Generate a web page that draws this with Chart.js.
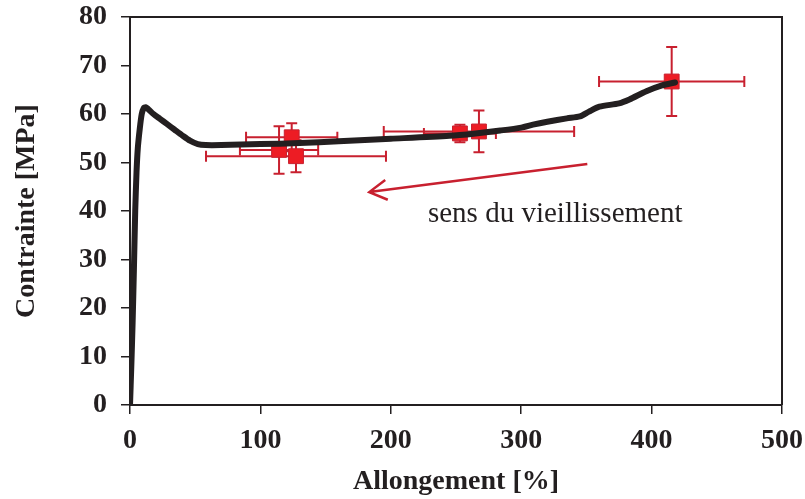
<!DOCTYPE html>
<html>
<head>
<meta charset="utf-8">
<script src="https://cdn.jsdelivr.net/npm/chart.js@4.4.1/dist/chart.umd.min.js"></script>
<style>
  body { margin: 0; background: #fff; }
</style>
</head>
<body>
<canvas id="myChart" width="805" height="499"></canvas>
<script>
// courbe de traction (allongement %, contrainte MPa)
var curveX = [0, 1, 2, 3, 4, 5, 6, 7.5, 9, 10.5, 12, 14, 18, 23, 28, 34, 40, 46, 52, 58, 70, 100, 130, 160, 200, 245, 265, 284, 300, 309, 320, 335, 345, 352, 360, 375, 383, 396, 408, 418];
var curveY = [0, 8, 17, 28, 40, 48, 53, 57, 60, 61.2, 61.4, 61, 60, 59, 58, 56.8, 55.6, 54.5, 53.8, 53.6, 53.6, 53.8, 54, 54.4, 54.9, 55.5, 56, 56.6, 57.2, 57.8, 58.4, 59.1, 59.5, 60.5, 61.5, 62.2, 63, 64.7, 65.9, 66.5];

// points moyens avec barres d'erreur
var ptX = [114.3, 127.3, 124, 253, 267.6, 415.4];
var ptY = [52.6, 51.3, 55.2, 56.0, 56.4, 66.7];
var ptXErr = [30, 69, 35, 27.6, 73, 55.7];
var ptYErr = [4.9, 3.3, 2.9, 1.8, 4.3, 7.1];

// fleche et texte
var arrowFrom = [350.7, 49.7];
var arrowTo = [183.5, 43.9];
var noteText = 'sens du vieillissement';
var notePos = [228.5, 37.8];

var black = '#231f20';
var red = '#c8202f';
var serif = "'Liberation Serif', 'Times New Roman', serif";

var curveData = [];
for (var i = 0; i < curveX.length; i++) {
    curveData.push({ x: curveX[i], y: curveY[i] });
}
var ptData = [];
for (var i = 0; i < ptX.length; i++) {
    ptData.push({ x: ptX[i], y: ptY[i] });
}

var errorBars = {
    id: 'errorBars',
    beforeDatasetsDraw: function (chart) {
        var ctx = chart.ctx, sx = chart.scales.x, sy = chart.scales.y;
        ctx.save();
        ctx.strokeStyle = red;
        ctx.lineWidth = 2;
        var cap = 5.5;
        for (var i = 0; i < ptX.length; i++) {
            var px = sx.getPixelForValue(ptX[i]);
            var py = sy.getPixelForValue(ptY[i]);
            var x0 = sx.getPixelForValue(ptX[i] - ptXErr[i]);
            var x1 = sx.getPixelForValue(ptX[i] + ptXErr[i]);
            var y0 = sy.getPixelForValue(ptY[i] - ptYErr[i]);
            var y1 = sy.getPixelForValue(ptY[i] + ptYErr[i]);
            ctx.beginPath();
            ctx.moveTo(x0, py); ctx.lineTo(x1, py);
            ctx.moveTo(x0, py - cap); ctx.lineTo(x0, py + cap);
            ctx.moveTo(x1, py - cap); ctx.lineTo(x1, py + cap);
            ctx.moveTo(px, y0); ctx.lineTo(px, y1);
            ctx.moveTo(px - cap, y0); ctx.lineTo(px + cap, y0);
            ctx.moveTo(px - cap, y1); ctx.lineTo(px + cap, y1);
            ctx.stroke();
        }
        ctx.restore();
    }
};

var extras = {
    id: 'extras',
    afterDraw: function (chart) {
        var ctx = chart.ctx, sx = chart.scales.x, sy = chart.scales.y, a = chart.chartArea;
        ctx.save();
        // cadre haut et droite
        ctx.strokeStyle = black;
        ctx.lineWidth = 2;
        ctx.beginPath();
        ctx.moveTo(a.left, a.top);
        ctx.lineTo(a.right, a.top);
        ctx.lineTo(a.right, a.bottom);
        ctx.stroke();
        // fleche
        var fx = sx.getPixelForValue(arrowFrom[0]), fy = sy.getPixelForValue(arrowFrom[1]);
        var tx = sx.getPixelForValue(arrowTo[0]), ty = sy.getPixelForValue(arrowTo[1]);
        var ang = Math.atan2(ty - fy, tx - fx);
        var head = 20, spread = 0.52;
        ctx.strokeStyle = red;
        ctx.lineWidth = 2.5;
        ctx.beginPath();
        ctx.moveTo(fx, fy); ctx.lineTo(tx, ty);
        ctx.moveTo(tx - head * Math.cos(ang - spread), ty - head * Math.sin(ang - spread));
        ctx.lineTo(tx, ty);
        ctx.lineTo(tx - head * Math.cos(ang + spread), ty - head * Math.sin(ang + spread));
        ctx.stroke();
        // texte
        ctx.fillStyle = black;
        ctx.font = '29px ' + serif;
        ctx.textAlign = 'left';
        ctx.textBaseline = 'alphabetic';
        ctx.fillText(noteText, sx.getPixelForValue(notePos[0]), sy.getPixelForValue(notePos[1]));
        ctx.restore();
    }
};

var ctx = document.getElementById('myChart');

new Chart(ctx, {
    type: 'scatter',
    data: {
        datasets: [{
            label: 'Courbe',
            data: curveData,
            showLine: true,
            borderColor: black,
            borderWidth: 6,
            pointRadius: 0,
            tension: 0.25,
            borderCapStyle: 'round',
            borderJoinStyle: 'round'
        },
        {
            label: 'Points',
            data: ptData,
            pointStyle: 'rect',
            pointRadius: 10.5,
            backgroundColor: '#ed1c24',
            borderColor: red,
            borderWidth: 1
        }]
    },
    options: {
        responsive: false,
        animation: false,
        layout: { padding: { top: 17, right: 23, left: 0, bottom: 0 } },
        plugins: {
            legend: { display: false },
            tooltip: { enabled: false }
        },
        scales: {
            x: {
                min: 0,
                max: 500,
                afterFit: function (s) {
                    s.height = 94;
                    s.paddingLeft = 0;
                    s.paddingRight = 0;
                },
                ticks: {
                    stepSize: 100,
                    color: black,
                    padding: 10,
                    font: { family: serif, size: 28, weight: 'bold' }
                },
                grid: { drawOnChartArea: false, drawTicks: true, tickLength: 9, color: black, lineWidth: 1.5 },
                border: { color: black, width: 2 },
                title: {
                    display: true,
                    text: 'Allongement [%]',
                    color: black,
                    padding: { top: 2, bottom: 0 },
                    font: { family: serif, size: 28, weight: 'bold' }
                }
            },
            y: {
                min: 0,
                max: 80,
                afterFit: function (s) {
                    s.width = 130;
                    s.paddingTop = 0;
                    s.paddingBottom = 0;
                },
                ticks: {
                    stepSize: 10,
                    color: black,
                    padding: 14,
                    font: { family: serif, size: 28, weight: 'bold' }
                },
                grid: { drawOnChartArea: false, drawTicks: true, tickLength: 9, color: black, lineWidth: 1.5 },
                border: { color: black, width: 2 },
                title: {
                    display: true,
                    text: 'Contrainte [MPa]',
                    color: black,
                    padding: { top: 10, bottom: 0 },
                    font: { family: serif, size: 28, weight: 'bold' }
                }
            }
        }
    },
    plugins: [errorBars, extras]
});
</script>
</body>
</html>
